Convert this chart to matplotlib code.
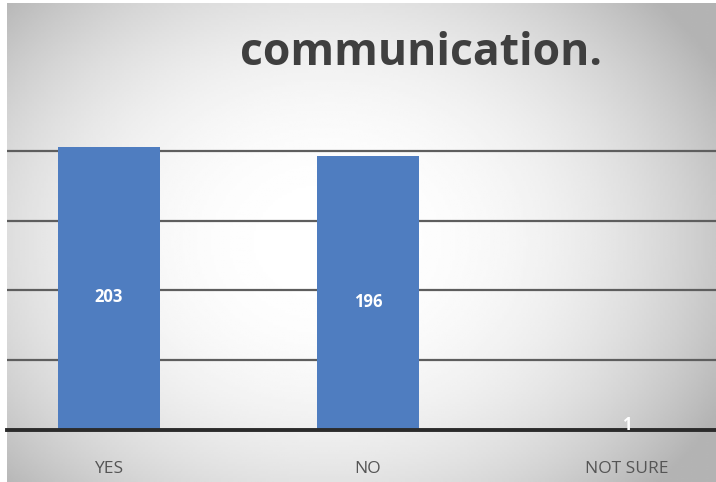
import matplotlib
matplotlib.use("Agg")
import matplotlib.pyplot as plt
import numpy as np

categories = ["YES", "NO", "NOT SURE"]
counts = [203, 196, 1]
title = "communication."

fig = plt.figure(figsize=(7.16, 4.82), dpi=100)

# radial grey-to-white background
bg = fig.add_axes([0.0098, 0, 0.9902, 0.994], zorder=0)
yy, xx = np.mgrid[-1:1:200j, -1:1:300j]
r = np.sqrt(((xx + 0.1) / 1.05) ** 2 + (yy / 1.25) ** 2)
bg.imshow(1 - 0.19 * np.clip(r, 0, 1.2) ** 2.4, cmap="gray", vmin=0, vmax=1,
          aspect="auto", extent=[0, 1, 0, 1])
bg.axis("off")

W, H = 716, 482
ax_left, ax_bottom, ax_top = 7, 430, 102
ax = fig.add_axes([ax_left / W, (H - ax_bottom) / H, 1 - ax_left / W,
                   (ax_bottom - ax_top) / H], zorder=1)
ax.patch.set_alpha(0)

x = np.arange(len(categories))
ax.bar(x, counts, width=0.394, color="#4f7dc0", zorder=3)
for xi, v in zip(x, counts):
    dy = -6 if v > 10 else 3  # tiny bar: label sits on the axis line
    ax.annotate(str(v), (xi, v / 2), xytext=(0, dy), textcoords="offset points",
                ha="center", va="center", color="white", fontsize=12,
                fontweight="bold", family="Open Sans", zorder=5)

ax.set_xlim(-0.394, 2.344)
ax.set_ylim(0, 235)
ax.set_yticks([50, 100, 150, 200])
ax.yaxis.grid(True, color="#5e5e5e", linewidth=1.6, zorder=0)
ax.tick_params(axis="y", length=0, labelleft=False)
ax.tick_params(axis="x", length=0, pad=22, labelsize=12.5, labelcolor="#555555")
ax.set_xticks(x, categories, family="Open Sans")
for s in ["top", "right", "left"]:
    ax.spines[s].set_visible(False)
ax.spines["bottom"].set_color("#2b2b2b")
ax.spines["bottom"].set_linewidth(2.8)
ax.spines["bottom"].set_zorder(4)

fig.text(0.588, 0.888, title, ha="center", va="center", fontsize=32,
         fontweight="bold", color="#3f3f3f", family="Open Sans")

fig.savefig("out.png", dpi=100)
